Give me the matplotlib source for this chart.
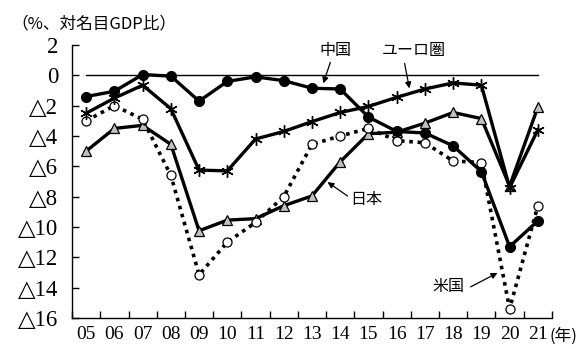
import matplotlib
matplotlib.use("Agg")
import matplotlib.pyplot as plt

# General government balance, % of nominal GDP
years = list(range(2005, 2022))
year_labels = ["05", "06", "07", "08", "09", "10", "11", "12", "13",
               "14", "15", "16", "17", "18", "19", "20", "21"]

china = [-1.4, -1.05, 0.05, -0.05, -1.7, -0.4, -0.1, -0.35, -0.85,
         -0.9, -2.75, -3.7, -3.8, -4.65, -6.35, -11.3, -9.6]
euro = [-2.5, -1.5, -0.65, -2.2, -6.25, -6.3, -4.2, -3.7, -3.05,
        -2.45, -2.05, -1.45, -0.9, -0.5, -0.65, -7.4, -3.6]
japan = [-5.0, -3.5, -3.3, -4.55, -10.25, -9.55, -9.45, -8.6, -7.95,
         -5.7, -3.85, -3.75, -3.15, -2.45, -2.85, -7.3, -2.1]
usa = [-3.0, -2.0, -2.9, -6.6, -13.15, -11.0, -9.7, -8.0, -4.55,
       -4.0, -3.5, -4.3, -4.45, -5.65, -5.75, -15.4, -8.6]

y_ticks = [2, 0, -2, -4, -6, -8, -10, -12, -14, -16]
y_tick_labels = ["2", "0", "△2", "△4", "△6", "△8", "△10", "△12", "△14", "△16"]

num_font = ["Liberation Serif", "DejaVu Sans"]
jp_font = ["Noto Sans CJK JP", "DejaVu Sans"]

# serif digits everywhere by default; Japanese labels name their own family
plt.rcParams["font.family"] = num_font

fig = plt.figure(figsize=(5.81, 3.49), dpi=100)
ax = fig.add_axes([0.124, 0.089, 0.826, 0.782])

# zero reference line
ax.plot([years[0], years[-1]], [0, 0], color="black", lw=1.0, zorder=1)

lw = 2.4
ax.plot(years, japan, color="black", lw=lw, marker="^", markersize=7.5,
        markerfacecolor="#c0c0c0", markeredgecolor="black",
        markeredgewidth=0.9, zorder=3)
ax.plot(years, usa, color="black", lw=2.6, linestyle=(0, (1, 1.3)),
        marker="o", markersize=6.5, markerfacecolor="white",
        markeredgecolor="black", markeredgewidth=0.9, zorder=4)
ax.plot(years, euro, color="black", lw=lw, marker=(6, 2, 0), markersize=9,
        markeredgewidth=1.0, zorder=5)
ax.plot(years, china, color="black", lw=lw, marker="o", markersize=7,
        markerfacecolor="black", markeredgecolor="black", zorder=6)

ax.set_xlim(years[0] - 0.5, years[-1] + 0.5)
ax.set_ylim(-16, 2)

for side in ("top", "right"):
    ax.spines[side].set_visible(False)
for side in ("left", "bottom"):
    ax.spines[side].set_linewidth(1.0)

# ticks between years, labels at the years
ax.set_xticks([y + 0.5 for y in [years[0] - 1] + years])
ax.set_xticklabels([])
ax.set_xticks(years, minor=True)
ax.set_xticklabels(year_labels, minor=True, fontsize=14)
ax.tick_params(axis="x", which="major", direction="in", length=5, width=1)
ax.tick_params(axis="x", which="minor", length=0, pad=6)

ax.set_yticks(y_ticks)
ax.set_yticklabels(y_tick_labels, fontsize=16.5)
ax.tick_params(axis="y", direction="in", length=5, width=1, pad=10)

fig.text(0.02, 0.932, "（%、対名目GDP比）", fontfamily=jp_font, fontsize=12,
         ha="left", va="center")
fig.text(0.969, 0.036, "(年)", fontfamily=jp_font, fontsize=12,
         ha="center", va="center")

# series labels with pointer arrows
label_kw = dict(fontfamily=jp_font, fontsize=11.5, ha="center", va="center")
arrow = dict(arrowstyle="-|>", color="black", lw=0.9, mutation_scale=9,
             shrinkA=0, shrinkB=0)
ax.text(2013.83, 1.64, "中国", **label_kw)
ax.annotate("", xy=(2013.4, -0.53), xytext=(2013.65, 0.86), arrowprops=arrow)
ax.text(2016.6, 1.64, "ユーロ圏", **label_kw)
ax.annotate("", xy=(2016.45, -0.86), xytext=(2016.28, 0.79), arrowprops=arrow)
ax.text(2014.93, -8.22, "日本", **label_kw)
ax.annotate("", xy=(2013.55, -7.04), xytext=(2014.26, -7.96), arrowprops=arrow)
ax.text(2017.84, -13.95, "米国", **label_kw)
ax.annotate("", xy=(2019.57, -13.03), xytext=(2018.62, -13.95), arrowprops=arrow)

fig.savefig("out.png", dpi=100)
